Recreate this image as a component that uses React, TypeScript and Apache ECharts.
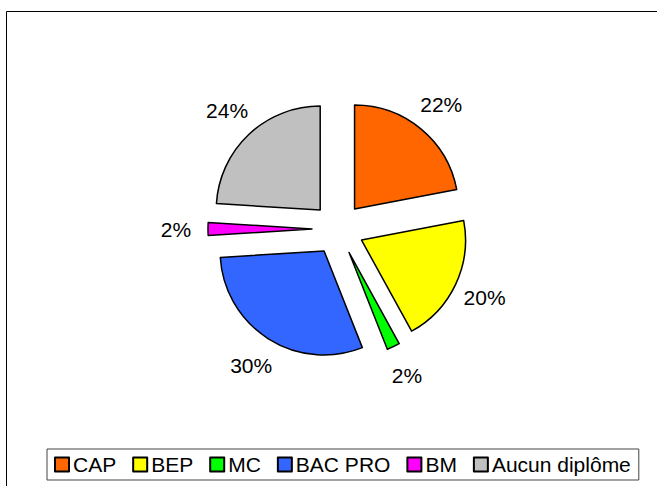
import React, { useEffect, useRef } from "react";
import * as echarts from "echarts";

const categories = ["CAP", "BEP", "MC", "BAC PRO", "BM", "Aucun diplôme"];
const values = [22, 20, 2, 30, 2, 24];
const colors = ["#FF6600", "#FFFF00", "#00FF00", "#3366FF", "#FF00FF", "#C0C0C0"];

export default function App() {
  const ref = useRef<HTMLDivElement>(null);
  useEffect(() => {
    if (!ref.current) return;
    const chart = echarts.init(ref.current, null, { renderer: "svg" });
    const font = "Liberation Sans, Arial, sans-serif";
    const R = 104;
    const offset = 26;
    const center = [338, 229];
    chart.setOption({
      animation: false,
      backgroundColor: "#fff",
      textStyle: { fontFamily: font },
      graphic: [
        {
          type: "rect",
          shape: { x: 6.5, y: 11.5, width: 700, height: 600 },
          style: { fill: "none", stroke: "#000", lineWidth: 1 },
          silent: true,
          z: 0,
        },
      ],
      legend: {
        data: categories,
        left: 47,
        top: 449,
        orient: "horizontal",
        icon: "rect",
        itemWidth: 14,
        itemHeight: 14,
        itemGap: 16,
        padding: [5, 8, 5, 7],
        borderColor: "#444",
        borderWidth: 1,
        backgroundColor: "#fff",
        selectedMode: false,
        textStyle: { fontSize: 21, color: "#000", fontFamily: font, padding: [0, 0, 0, -1] },
      },
      series: [
        {
          type: "pie",
          center,
          radius: R,
          startAngle: 90,
          clockwise: true,
          selectedMode: "multiple",
          selectedOffset: offset,
          silent: true,
          label: { show: false },
          labelLine: { show: false },
          itemStyle: { borderColor: "#000", borderWidth: 1.5 },
          select: { itemStyle: { borderColor: "#000", borderWidth: 1.5 } },
          data: categories.map((c, i) => ({
            name: c,
            value: values[i],
            selected: true,
            itemStyle: { color: colors[i] },
          })),
        },
        {
          type: "pie",
          center,
          radius: [R, R + 58],
          startAngle: 90,
          clockwise: true,
          selectedMode: "multiple",
          selectedOffset: offset,
          silent: true,
          labelLine: { show: false },
          label: {
            show: true,
            position: "inside",
            formatter: (p: any) => p.value + "%",
            fontSize: 21,
            color: "#000",
            fontFamily: font,
          },
          itemStyle: { color: "rgba(0,0,0,0)", borderWidth: 0 },
          select: { itemStyle: { color: "rgba(0,0,0,0)", borderWidth: 0 } },
          data: categories.map((c, i) => ({
            name: c,
            value: values[i],
            selected: true,
          })),
        },
      ],
    });
    return () => chart.dispose();
  }, []);
  return (
    <div
      ref={ref}
      style={{ position: "fixed", left: 0, top: 0, width: 657, height: 486 }}
    />
  );
}
